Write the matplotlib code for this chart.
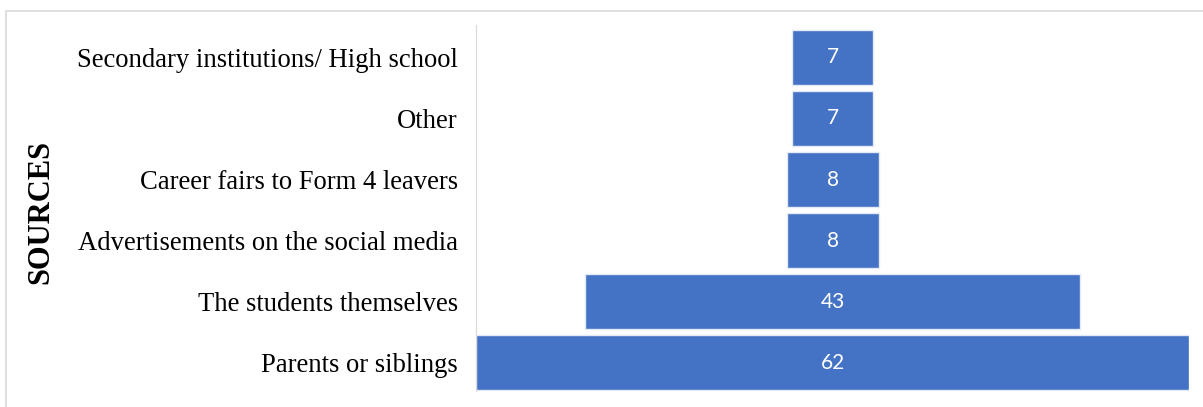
import matplotlib.pyplot as plt
from matplotlib.patches import Rectangle

# sources of information, bottom to top
sources = ["Parents or siblings", "The students themselves",
           "Advertisements on the social media", "Career fairs to Form 4 leavers",
           "Other", "Secondary institutions/ High school"]
counts = [62, 43, 8, 8, 7, 7]

W, H = 1203, 407
fig = plt.figure(figsize=(W / 100, H / 100), dpi=100)

# light outer frame of the chart area
fig.patches.append(Rectangle((6 / W, -0.1), 1.2, (H - 11) / H + 0.1,
                             transform=fig.transFigure, fill=False,
                             edgecolor="#d9d9d9", linewidth=1.2))

ax = fig.add_axes([476 / W, 16 / H, (1189 - 476) / W, (391 - 25) / H])

pos = list(range(len(sources)))
lefts = [-c / 2 for c in counts]
bars = ax.barh(pos, counts, left=lefts, height=0.9, color="#4472C4",
               edgecolor="#e3eaf6", linewidth=1.0)

for y, c in zip(pos, counts):
    ax.text(0, y, str(c), ha="center", va="center", color="white",
            fontsize=15, family="Lato")

ax.set_xlim(-31, 31)
ax.set_ylim(-0.46, 5.53)
ax.set_yticks(pos)
ax.set_yticklabels(sources, family="Liberation Serif", fontsize=19.2)
ax.tick_params(axis="y", length=0, pad=13)
ax.set_xticks([])
for s in ["top", "right", "bottom"]:
    ax.spines[s].set_visible(False)
ax.spines["left"].set_color("#d9d9d9")

fig.text(41 / W, 1 - 212 / H, "SOURCES", rotation=90, ha="center", va="center",
         family="Liberation Serif", fontweight="bold", fontsize=22)

fig.savefig("out.png", dpi=100)
